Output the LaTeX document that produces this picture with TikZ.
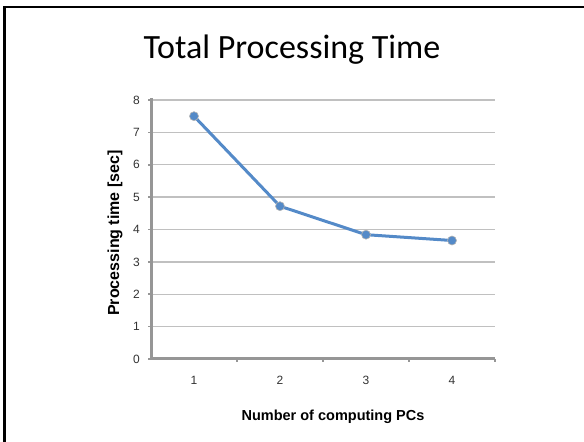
\documentclass[tikz,border=0pt]{standalone}
\usepackage{fontspec}
\setmainfont{Liberation Sans}
\newfontfamily\titlefont{Carlito}
\usepackage{xcolor}
\usetikzlibrary{positioning}
\definecolor{lineblue}{RGB}{84,138,200}
\definecolor{gridgray}{RGB}{192,192,192}
\definecolor{axisgray}{RGB}{150,150,150}
\definecolor{labelgray}{RGB}{50,50,50}
\tikzset{
  gridline/.style={draw=gridgray, line width=1.4pt},
  axisline/.style={draw=axisgray, line width=3pt},
  tickmark/.style={draw=axisgray, line width=1.6pt},
  ticklabel/.style={font=\fontsize{12}{14}\selectfont, text=labelgray, inner sep=0pt},
  axistitle/.style={font=\fontsize{14.5}{17}\selectfont\bfseries, inner sep=0pt},
  datapoint/.style={circle, fill=lineblue, draw=gray!60, line width=0.6pt,
                    minimum size=9pt, inner sep=0pt},
  dataline/.style={draw=lineblue, line width=3pt, line join=round},
}

\begin{document}
\begin{tikzpicture}[x=1pt, y=1pt]
\useasboundingbox (0,0) rectangle (584,442);
% slide frame
\draw[line width=2.6pt] (4.5,0) -- (4.5,435) -- (584,435);
\node[font=\titlefont\fontsize{34}{40}\selectfont, anchor=base] (title) at (292,383) {Total Processing Time};

% chart area: one unit = one PC category / one second
\begin{scope}[shift={(151,83)}, x=86pt, y=32.375pt]
  \foreach \v in {1,...,8}
    \draw[gridline] (0,\v) -- (4,\v);
  \foreach \v in {0,...,8} {
    \draw[tickmark] (0,\v) -- ++(-3pt,0);
    \node[ticklabel, anchor=east, xshift=-11pt] (ylab\v) at (0,\v) {\v};
  }
  \foreach \n in {1,...,4} {
    \draw[tickmark] (\n,0) -- ++(0,-3pt);
    \node[ticklabel, yshift=-21pt] (xlab\n) at (\n-0.5,0) {\n};
  }
  \draw[axisline] (0,8.06) -- (0,0) -- (4,0);

  % measured times
  \foreach \n/\t in {1/7.5, 2/4.72, 3/3.84, 4/3.66}
    \coordinate (c\n) at (\n-0.5,\t);
  \draw[dataline] (c1) -- (c2) -- (c3) -- (c4);
  \foreach \n in {1,...,4}
    \node[datapoint] (p\n) at (c\n) {};
\end{scope}

\node[axistitle, anchor=base] (xtitle) at (333,21) {Number of computing PCs};
\node[axistitle, font=\fontsize{16}{19}\selectfont\bfseries, rotate=90, anchor=base] (ytitle) at (119,209) {Processing time [sec]};
\end{tikzpicture}
\end{document}
